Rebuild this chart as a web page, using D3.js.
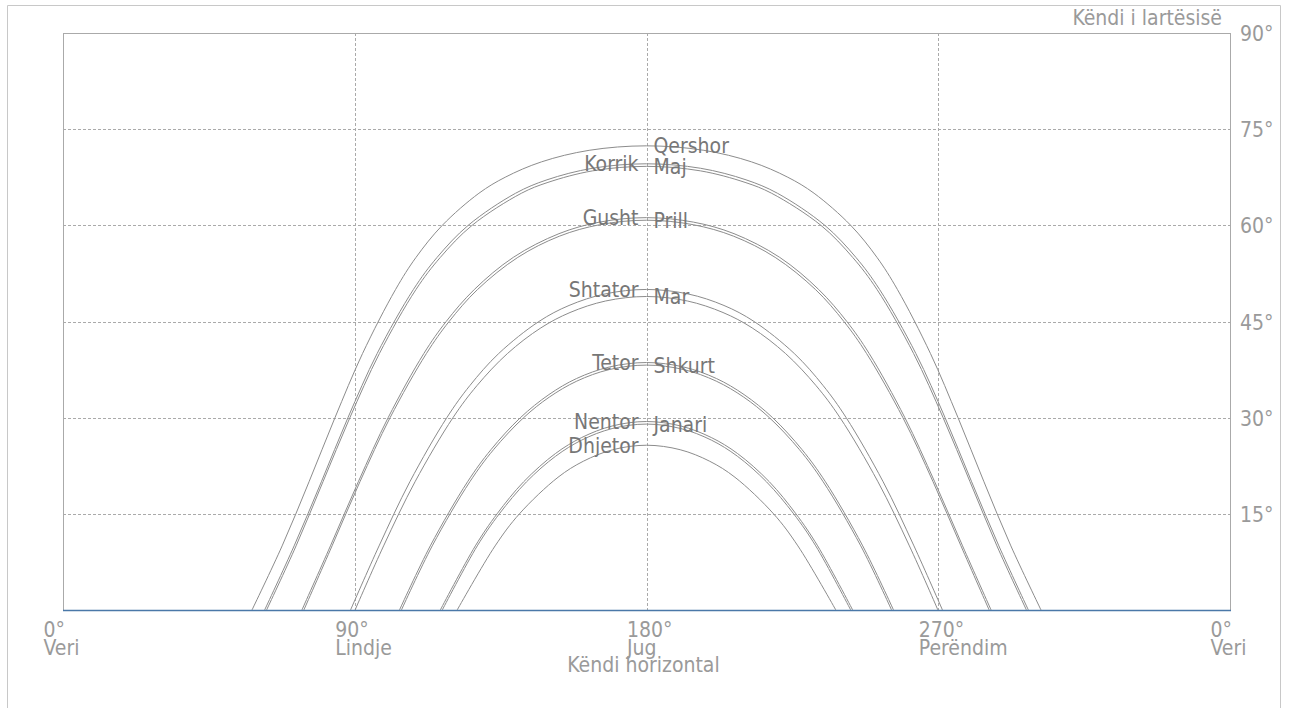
<!DOCTYPE html>
<html lang="sq">
<head>
<meta charset="utf-8">
<title>Diagrama e rrugës së diellit</title>
<script src="https://cdnjs.cloudflare.com/ajax/libs/d3/7.8.5/d3.min.js"></script>
<style>
  body { margin: 0; background: #fff; }
  svg text { font-family: "DejaVu Sans Condensed", "DejaVu Sans", sans-serif; font-stretch: condensed; font-size: 21px; }
  .axis text { fill: #9a9a9a; }
  .month { fill: #777; }
  .grid line { stroke: #aaa; stroke-dasharray: 3,2; shape-rendering: crispEdges; }
  .sun { fill: none; stroke: #8c8c8c; stroke-width: 1; }
</style>
</head>
<body>
<div id="chart"></div>
<script>
// tick labels
var xTicks = [0, 90, 180, 270, 360];
var xTickLabels = ["0°", "90°", "180°", "270°", "0°"];
var xTickNames = ["Veri", "Lindje", "Jug", "Perëndim", "Veri"];
var yTicks = [15, 30, 45, 60, 75, 90];

// sun paths: [azimuth, elevation]
var janari  = [[117.0,0],[127.8,10],[134.6,15],[143.0,20],[152.0,24],[160.0,26.5],[169.4,28.3],[180,29.0],[190.6,28.3],[200.0,26.5],[208.0,24],[217.0,20],[225.4,15],[232.2,10],[243.0,0]];
var shkurt  = [[104.4,0],[113.9,10],[125.5,20],[132.8,25],[142.1,30],[150.0,33.2],[158.5,35.7],[168.5,37.5],[180,38.2],[191.5,37.5],[201.5,35.7],[210.0,33.2],[217.9,30],[227.2,25],[234.5,20],[246.1,10],[255.6,0]];
var mar     = [[90.1,0],[98.9,10],[108.6,20],[120.3,30],[127.7,35],[137.1,40],[147.4,44],[156.4,46.4],[167.4,48.2],[180,48.9],[192.6,48.2],[203.6,46.4],[212.6,44],[222.9,40],[232.3,35],[239.7,30],[251.4,20],[261.1,10],[269.9,0]];
var prill   = [[74.3,0],[83.0,10],[91.6,20],[100.9,30],[112.1,40],[119.1,45],[127.9,50],[140.3,55],[153.1,58.3],[165.6,60.1],[180,60.8],[194.4,60.1],[206.9,58.3],[219.7,55],[232.1,50],[240.9,45],[247.9,40],[259.1,30],[268.4,20],[277.0,10],[285.7,0]];
var maj     = [[62.8,0],[71.9,10],[80.2,20],[88.5,30],[97.6,40],[108.9,50],[116.4,55],[126.2,60],[141.4,65],[149.6,66.7],[163.4,68.5],[180,69.2],[196.6,68.5],[210.4,66.7],[218.6,65],[233.8,60],[243.6,55],[251.1,50],[262.4,40],[271.5,30],[279.8,20],[288.1,10],[297.2,0]];
var qershor = [[58.3,0],[67.6,10],[75.9,20],[83.9,30],[92.4,40],[102.6,50],[108.9,55],[117.0,60],[128.3,65],[136.4,67.5],[147.6,69.9],[162.3,71.7],[180,72.4],[197.7,71.7],[212.4,69.9],[223.6,67.5],[231.7,65],[243.0,60],[251.1,55],[257.4,50],[267.6,40],[276.1,30],[284.1,20],[292.4,10],[301.7,0]];
var korrik  = [[62.2,0],[71.3,10],[79.7,20],[87.9,30],[96.9,40],[108.1,50],[115.4,55],[125.0,60],[139.6,65],[149.3,67.1],[163.3,68.9],[180,69.6],[196.7,68.9],[210.7,67.1],[220.4,65],[235.0,60],[244.6,55],[251.9,50],[263.1,40],[272.1,30],[280.3,20],[288.7,10],[297.8,0]];
var gusht   = [[73.7,0],[82.5,10],[91.1,20],[100.3,30],[111.3,40],[118.2,45],[126.9,50],[138.9,55],[153.0,58.7],[165.5,60.5],[180,61.2],[194.5,60.5],[207.0,58.7],[221.1,55],[233.1,50],[241.8,45],[248.7,40],[259.7,30],[268.9,20],[277.5,10],[286.3,0]];
var shtator = [[88.7,0],[97.5,10],[107.0,20],[118.4,30],[125.5,35],[134.4,40],[146.8,45],[156.1,47.5],[167.2,49.3],[180,50.0],[192.8,49.3],[203.9,47.5],[213.2,45],[225.6,40],[234.5,35],[241.6,30],[253.0,20],[262.5,10],[271.3,0]];
var tetor   = [[103.8,0],[113.3,10],[124.8,20],[132.0,25],[141.1,30],[149.9,33.6],[158.4,36.1],[168.5,37.9],[180,38.6],[191.5,37.9],[201.6,36.1],[210.1,33.6],[218.9,30],[228.0,25],[235.2,20],[246.7,10],[256.2,0]];
var nentor  = [[116.4,0],[127.2,10],[133.9,15],[142.1,20],[151.9,24.4],[160.0,26.9],[169.4,28.7],[180,29.4],[190.6,28.7],[200.0,26.9],[208.1,24.4],[217.9,20],[226.1,15],[232.8,10],[243.6,0]];
var dhjetor = [[121.6,0],[133.3,10],[140.8,15],[152.7,20.7],[160.5,23.2],[169.6,25.0],[180,25.7],[190.4,25.0],[199.5,23.2],[207.3,20.7],[219.2,15],[226.7,10],[238.4,0]];

var monthNames = ["Janari","Shkurt","Mar","Prill","Maj","Qershor","Korrik","Gusht","Shtator","Tetor","Nentor","Dhjetor"];
var monthPaths = [janari, shkurt, mar, prill, maj, qershor, korrik, gusht, shtator, tetor, nentor, dhjetor];

var W = 1290, H = 708;
var plotL = 63, plotR = 1230, plotT = 33, plotB = 610;

var svg = d3.select("#chart").append("svg")
    .attr("width", W)
    .attr("height", H);

// outer frame
svg.append("path")
    .attr("d", "M7.5," + (H + 2) + "V5.5H1280.5V" + (H + 2))
    .attr("fill", "none")
    .attr("stroke", "#c8c8c8");

var x = d3.scaleLinear().domain([0, 360]).range([plotL, plotR]);
var y = d3.scaleLinear().domain([0, 90]).range([plotB, plotT]);

// grid
var grid = svg.append("g").attr("class", "grid");
grid.selectAll(".h")
    .data([15, 30, 45, 60, 75])
    .enter().append("line")
    .attr("x1", plotL).attr("x2", plotR)
    .attr("y1", function(d) { return Math.round(y(d)) + 0.5; })
    .attr("y2", function(d) { return Math.round(y(d)) + 0.5; });
grid.selectAll(".v")
    .data([90, 180, 270])
    .enter().append("line")
    .attr("y1", plotT).attr("y2", plotB)
    .attr("x1", function(d) { return Math.round(x(d)) + 0.5; })
    .attr("x2", function(d) { return Math.round(x(d)) + 0.5; });

// plot border (left, top, right)
svg.append("path")
    .attr("d", "M" + (plotL + 0.5) + "," + plotB + "V" + (plotT + 0.5) + "H" + (plotR + 0.5) + "V" + plotB)
    .attr("fill", "none")
    .attr("stroke", "#aaa")
    .attr("shape-rendering", "crispEdges");

// sun paths
var line = d3.line()
    .x(function(d) { return x(d[0]); })
    .y(function(d) { return y(d[1]); })
    .curve(d3.curveCatmullRom);

svg.selectAll(".sun")
    .data(monthPaths)
    .enter().append("path")
    .attr("class", "sun")
    .attr("d", line);

// bottom axis line
svg.append("line")
    .attr("x1", plotL).attr("x2", plotR + 1)
    .attr("y1", plotB + 0.5).attr("y2", plotB + 0.5)
    .attr("stroke", "#4a78a8")
    .attr("stroke-width", 1.5);

// month labels at the noon peak
svg.selectAll(".month")
    .data(monthNames)
    .enter().append("text")
    .attr("class", "month")
    .attr("x", function(d, i) { return i < 6 ? x(180) + 7 : x(180) - 8; })
    .attr("y", function(d, i) { return y(d3.max(monthPaths[i], function(p) { return p[1]; })); })
    .attr("dy", "0.36em")
    .attr("text-anchor", function(d, i) { return i < 6 ? "start" : "end"; })
    .text(function(d) { return d; });

// right axis
var yAxis = d3.axisRight(y)
    .tickValues(yTicks)
    .tickSize(0)
    .tickPadding(10)
    .tickFormat(function(d) { return d + "°"; });
var gy = svg.append("g")
    .attr("class", "axis")
    .attr("transform", "translate(" + plotR + ",0)")
    .call(yAxis);
gy.select(".domain").remove();
gy.selectAll("text").attr("dy", "0.36em");

// bottom axis, two line labels
var xAxis = d3.axisBottom(x)
    .tickValues(xTicks)
    .tickSize(0)
    .tickFormat("");
var gx = svg.append("g")
    .attr("class", "axis")
    .attr("transform", "translate(0," + plotB + ")")
    .call(xAxis);
gx.select(".domain").remove();
gx.selectAll(".tick text").each(function(d, i) {
    var t = d3.select(this).attr("y", 0).attr("dy", null).attr("text-anchor", "start");
    t.append("tspan").attr("x", -20).attr("y", 27).text(xTickLabels[i]);
    t.append("tspan").attr("x", -20).attr("y", 45).text(xTickNames[i]);
});

// axis titles
svg.append("text")
    .attr("x", x(180) - 3)
    .attr("y", 672)
    .attr("text-anchor", "middle")
    .attr("fill", "#9a9a9a")
    .text("Këndi horizontal");
svg.append("text")
    .attr("x", 1222)
    .attr("y", 25)
    .attr("text-anchor", "end")
    .attr("fill", "#9a9a9a")
    .text("Këndi i lartësisë");
</script>
</body>
</html>
